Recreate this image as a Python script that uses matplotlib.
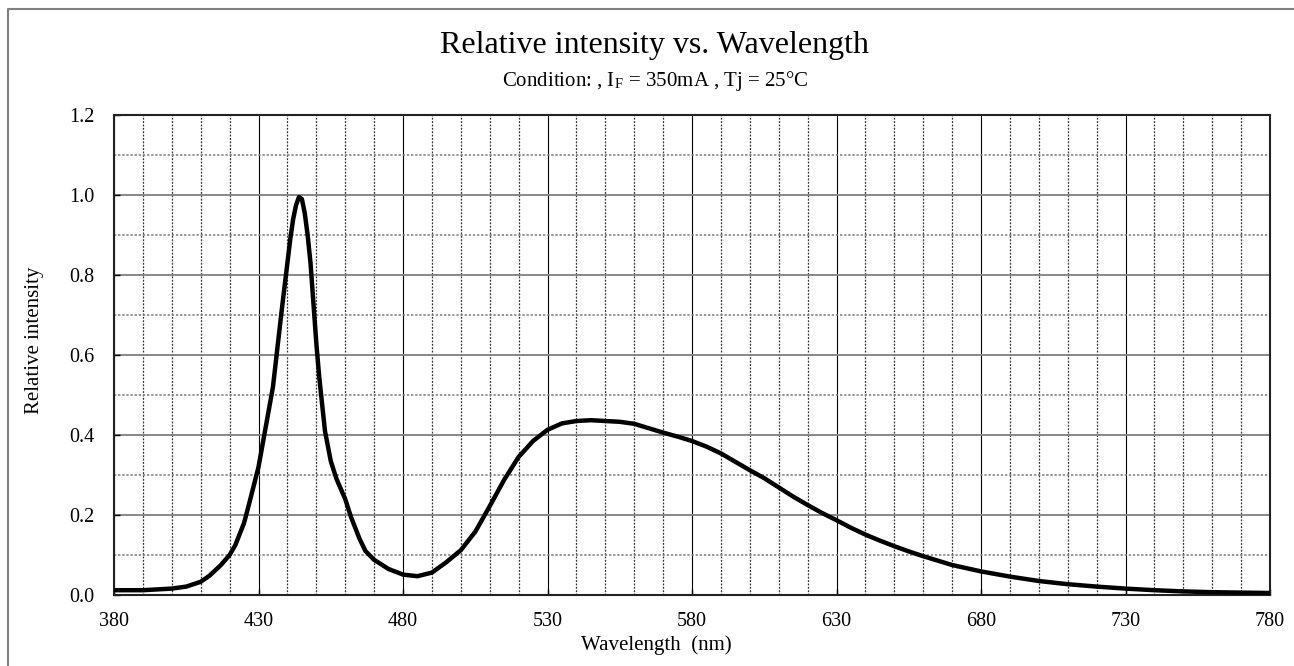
"""Relative intensity vs. wavelength spectrum (white LED)."""

import matplotlib

matplotlib.use("Agg")

import matplotlib.pyplot as plt
from matplotlib.lines import Line2D
from matplotlib.ticker import MultipleLocator

# values
wavelength = [
    380, 390, 400, 405, 410, 413, 417, 420, 422, 425, 427, 430, 432, 435, 438,
    440, 441, 442, 443, 444, 445, 446, 447, 448, 449, 450, 451, 453, 455, 457,
    460, 462, 465, 467, 470, 475, 480, 485, 490, 495, 500, 505, 510, 515, 520,
    525, 530, 535, 540, 545, 550, 555, 560, 565, 570, 575, 580, 585, 590, 595,
    600, 605, 610, 615, 620, 625, 630, 635, 640, 645, 650, 655, 660, 665, 670,
    680, 690, 700, 710, 720, 730, 740, 750, 760, 770, 780,
]
intensity = [
    0.012, 0.012, 0.016, 0.021, 0.033, 0.048, 0.075, 0.10, 0.125, 0.18, 0.235,
    0.32, 0.40, 0.52, 0.71, 0.83, 0.89, 0.94, 0.975, 0.995, 0.99, 0.955, 0.90,
    0.83, 0.73, 0.63, 0.546, 0.41, 0.335, 0.29, 0.24, 0.195, 0.14, 0.11, 0.088,
    0.065, 0.051, 0.047, 0.056, 0.082, 0.112, 0.158, 0.222, 0.288, 0.345, 0.385,
    0.413, 0.429, 0.435, 0.437, 0.435, 0.433, 0.428, 0.417, 0.406, 0.396, 0.385,
    0.371, 0.354, 0.333, 0.312, 0.292, 0.269, 0.246, 0.225, 0.205, 0.187, 0.168,
    0.151, 0.136, 0.122, 0.109, 0.097, 0.086, 0.075, 0.059, 0.046, 0.035, 0.027,
    0.021, 0.016, 0.012, 0.009, 0.007, 0.006, 0.005,
]
x_ticks = [380, 430, 480, 530, 580, 630, 680, 730, 780]
y_ticks = [0.0, 0.2, 0.4, 0.6, 0.8, 1.0, 1.2]

plt.rcParams["font.family"] = ["Liberation Serif", "DejaVu Serif"]
plt.rcParams["mathtext.fontset"] = "stix"

W, H = 1294, 666
fig = plt.figure(figsize=(W / 100, H / 100), dpi=100)
ax = fig.add_axes([114 / W, 1 - 595 / H, 1156 / W, 480 / H])

# figure frame (left and top edges)
fig.add_artist(Line2D([8 / W, 8 / W, 1.0], [0.0, 1 - 9 / H, 1 - 9 / H],
                      transform=fig.transFigure, color="#808080", lw=1.5))

ax.plot(wavelength, intensity, color="black", lw=3.2, solid_capstyle="round",
        solid_joinstyle="round", zorder=3)

ax.set_xlim(380, 780)
ax.set_ylim(0, 1.2)
ax.set_xticks(x_ticks)
ax.set_yticks(y_ticks)
ax.set_yticklabels([f"{v:.1f}" for v in y_ticks])
ax.xaxis.set_minor_locator(MultipleLocator(10))
ax.yaxis.set_minor_locator(MultipleLocator(0.1))
ax.tick_params(which="both", direction="in", labelsize=14.5)
ax.tick_params(axis="x", pad=12)
ax.tick_params(axis="y", pad=14)
ax.tick_params(which="major", length=4, width=1)
ax.tick_params(which="minor", length=0)

ax.grid(which="major", axis="x", color="black", lw=0.8)
ax.grid(which="major", axis="y", color="#7f7f7f", lw=1.3)
ax.grid(which="minor", axis="x", color="#333333", lw=0.9, linestyle=(0, (1.5, 1.2)))
ax.grid(which="minor", axis="y", color="#7a7a7a", lw=1.1, linestyle=(0, (1.5, 1.2)))
ax.set_axisbelow(True)
for spine in ax.spines.values():
    spine.set_color("#222222")
    spine.set_linewidth(1.5)

fig.text(656 / W, 1 - 645 / H, "Wavelength  (nm)", ha="center", va="center",
         fontsize=15)
fig.text(35 / W, 1 - 340 / H, "Relative intensity", ha="center", va="center",
         rotation=90, fontsize=15)

fig.text(654 / W, 1 - 46 / H, "Relative intensity vs. Wavelength",
         ha="center", va="center", fontsize=23)
fig.text(655 / W, 1 - 81 / H,
         r"Condition: , I$_{\mathregular{F}}$ = 350mA , Tj = 25°C",
         ha="center", va="center", fontsize=15)

fig.savefig("out.png", dpi=100)
plt.close(fig)
